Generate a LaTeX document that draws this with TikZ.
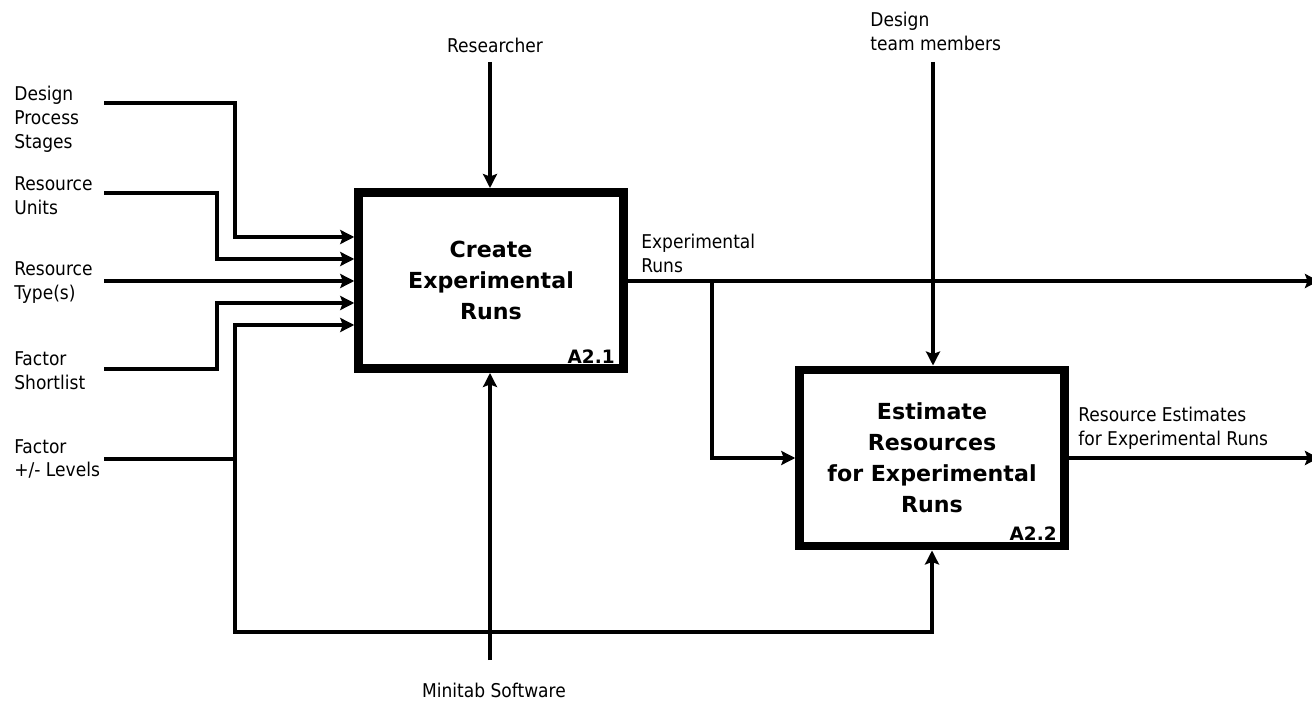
\documentclass[tikz,border=0pt]{standalone}
\usepackage{fontspec}
\setmainfont{DejaVu Sans}
\newfontfamily\labelfont{DejaVu Sans Condensed}
\usetikzlibrary{arrows.meta}

\begin{document}
\begin{tikzpicture}[x=0.02cm,y=-0.02cm,
  flow/.style={line width=0.07cm},
  arrowflow/.style={flow,-{Stealth[length=0.28cm,width=0.28cm,inset=0.05cm]}},
  activity/.style={draw,line width=0.17cm,minimum width=5.3cm,minimum height=3.53cm,
    align=center,font=\fontsize{12.6}{17.6}\selectfont\bfseries,inner sep=0pt},
  tag/.style={font=\fontsize{10.5}{11}\selectfont\bfseries,inner sep=0pt,anchor=south east},
  lbl/.style={font=\labelfont\fontsize{10.8}{13.6}\selectfont,align=left,inner sep=0pt}]

\useasboundingbox (0,0) rectangle (1312,702);

% activity boxes
\node[activity] (a21) at (491,280.5) {Create\\Experimental\\Runs};
\node[activity] (a22) at (932,458) {Estimate\\Resources\\for Experimental\\Runs};
\node[tag] (t21) at (615,364) {A2.1};
\node[tag] (t22) at (1057,541) {A2.2};

% labels
\node[lbl,anchor=west] (dps) at (14,119) {Design\\Process\\Stages};
\node[lbl,anchor=west] (ru)  at (14,196) {Resource\\Units};
\node[lbl,anchor=west] (rt)  at (14,283) {Resource\\Type(s)};
\node[lbl,anchor=west] (fs)  at (14,371) {Factor\\Shortlist};
\node[lbl,anchor=west] (fl)  at (14,459) {Factor\\+/- Levels};
\node[lbl] (res) at (495,45) {Researcher};
\node[lbl] (mini) at (494,690) {Minitab Software};
\node[lbl,anchor=west] (dtm) at (870,31) {Design\\team members};
\node[lbl,anchor=west] (er) at (641,253) {Experimental\\Runs};
\node[lbl,anchor=west] (rer) at (1078,428) {Resource Estimates\\for Experimental Runs};

% free line ends
\coordinate (sDPS) at (104,103);
\coordinate (sRU)  at (104,193);
\coordinate (sRT)  at (104,281);
\coordinate (sFS)  at (104,369);
\coordinate (sFL)  at (104,459);
\coordinate (sRes) at (490,62);
\coordinate (sMini) at (490,660);
\coordinate (sDTM) at (933,62);
\coordinate (eOut1) at (1319,281);
\coordinate (eOut2) at (1319,458);
\coordinate (split) at (712,281);
\coordinate (jFL) at (235,459);

% inputs to A2.1
\draw[arrowflow] (sDPS) -| (235,237) -- (a21.west |- 0,237);
\draw[arrowflow] (sRU) -| (217,259) -- (a21.west |- 0,259);
\draw[arrowflow] (sRT) -- (a21.west |- sRT);
\draw[arrowflow] (sFS) -| (217,303) -- (a21.west |- 0,303);
\draw[flow] (sFL) -- (jFL);
\draw[arrowflow] (235,632) -- (235,325) -- (a21.west |- 0,325);
\draw[arrowflow] (jFL) -- (235,632) -| (a22.south);

% controls and mechanisms
\draw[arrowflow] (sRes) -- (sRes |- a21.north);
\draw[arrowflow] (sMini) -- (sMini |- a21.south);
\draw[arrowflow] (sDTM) -- (sDTM |- a22.north);

% outputs
\draw[arrowflow] (a21.east |- split) -- (eOut1);
\draw[arrowflow] (split) |- (a22.west);
\draw[arrowflow] (a22.east) -- (eOut2);
\end{tikzpicture}
\end{document}
